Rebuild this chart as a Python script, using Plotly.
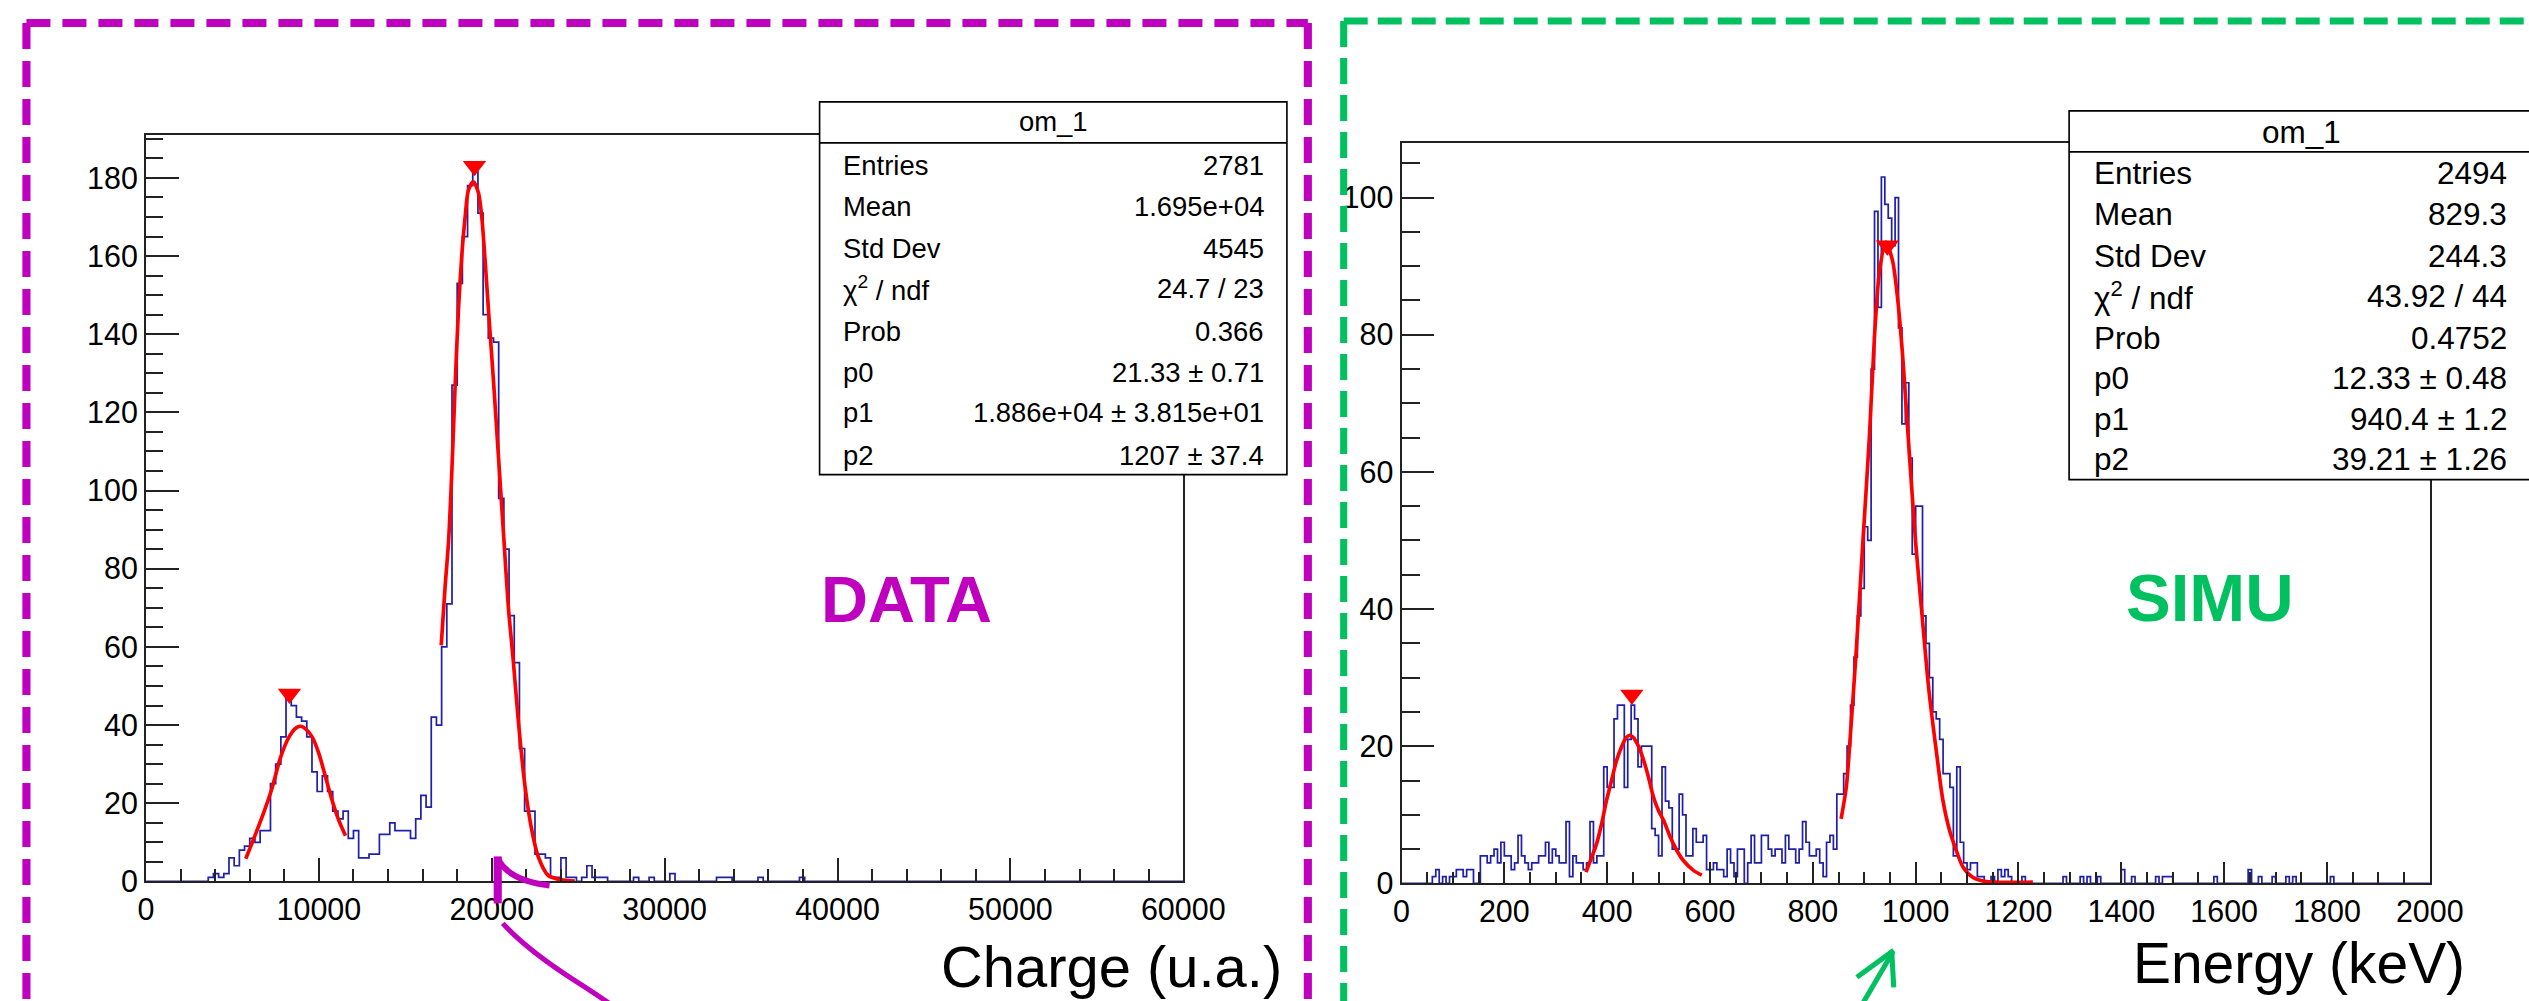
import numpy as np
import plotly.graph_objects as go

# Observed photo transform: screen = S * figure + (OXS, OYS). Compensate so that the
# picture coordinates (in the 2529x1001 reference frame) land where intended.
S = 0.984
OXS, OYS = 8.5, -1.0
W = int(round((2529 - OXS) / S)) + 1
H = int(round((1001 - OYS) / S)) + 1

# ---------------- DATA ----------------
# Left: DATA histogram, 200 bins over 0..60000 (width 300)
charge_lo, charge_hi, charge_nbins = 0, 60000, 200
charge_counts_head = [0, 0, 0, 0, 0, 0, 0, 0, 0, 0, 0, 0,
                      1, 2, 1, 2, 6, 4, 8, 9, 11, 10, 13, 13,
                      25, 30, 37, 47, 45, 42, 41, 37, 28, 23, 27, 23,
                      18, 16, 18, 11, 13, 6, 6, 7, 7, 12, 12, 15,
                      13, 13, 13, 11, 16, 22, 19, 42, 40, 60, 71,
                      127, 153, 165, 178, 182, 171, 145, 139, 138, 98, 85, 68,
                      56, 34, 18, 18, 7, 7, 6, 1, 1, 6, 1, 1, 0, 1, 4, 1, 1, 1]
charge_tail_bins = [94, 97, 101, 110, 111, 112, 118, 126]
charge_tail_counts = [1, 1, 2, 1, 1, 1, 1, 1]

# fit curves (read points)
charge_fit1_x = [5770, 6346, 6923, 7307, 7788, 8269, 8654, 8942, 9230, 9615, 10000, 10384, 10769, 11153, 11538]
charge_fit1_y = [5.8, 12.2, 19.0, 24.1, 31.8, 36.9, 39.2, 39.7, 39.0, 36.9, 32.7, 26.7, 20.7, 15.6, 11.7]
charge_fit2_x = [17075, 17306, 17498, 17690, 17883, 18075, 18268, 18460, 18652, 18940, 19229, 19421, 19614,
                 19806, 20094, 20383, 20671, 20960, 21248, 21537, 21921, 22306, 22690, 23267, 24036, 24806]
charge_fit2_y = [60.4, 75.7, 86.8, 104.8, 127.0, 146.4, 160.3, 170.0, 176.9, 179.0, 176.2, 170.0, 158.9,
                 146.4, 128.4, 109.0, 89.6, 70.2, 56.3, 41.0, 24.4, 13.3, 6.3, 1.5, 0.4, 0.1]
charge_peaks_x = [8300, 19000]
charge_peaks_y = [48, 183]

# Right: SIMU histogram, 300 bins over 0..2000 keV
energy_lo, energy_hi, energy_nbins = 0, 2000, 300
energy_counts_head = [0, 0, 0, 0, 0, 0, 0, 0, 0,
                      1, 2, 0, 1, 0, 1, 1, 2, 2, 1, 2, 2, 0, 0,
                      4, 4, 3, 4, 5, 3, 6, 4, 4, 2, 3, 7, 4, 3, 2, 3, 3, 4, 4, 6,
                      3, 5, 4, 3, 3, 9, 1, 4, 3, 3, 2, 3, 9, 3, 4, 4,
                      17, 14, 14, 24, 26, 26, 14, 21, 26, 24, 17, 20, 20, 20,
                      8, 7, 4, 17, 12, 11, 5, 5, 13, 10, 4, 4, 8, 6, 6, 7, 2, 2, 3, 2,
                      2, 1, 5, 3, 1, 5, 5, 0, 3, 7, 3, 3, 7, 7, 5, 4, 5, 5, 3, 7,
                      5, 5, 3, 5, 9, 6, 4, 4, 5, 3, 1, 6, 7, 5,
                      13, 13, 16, 20, 26, 33, 39, 43, 52, 50, 75, 98, 84, 103, 99, 97, 93, 100, 81, 67,
                      73, 62, 48, 55, 55, 39, 35, 30, 25, 24, 21, 16, 16, 14, 4, 17, 6, 3, 2, 3,
                      3, 1, 1, 0, 0, 1, 0, 2, 1, 2, 1]
energy_tail_bins = [181, 193, 198, 200, 203, 210, 213, 220, 222, 223, 224, 237, 247, 250, 254, 258, 260, 271]
energy_tail_counts = [1, 1, 1, 1, 1, 2, 1, 1, 1, 1, 1, 1, 2, 1, 1, 1, 1, 1]

energy_fit1_x = [358.8, 369.8, 379.5, 389.2, 398.8, 408.5, 418.2, 427.9, 437.6, 444.0, 450.5, 460.2, 469.9,
                 479.6, 490.0, 500.0, 509.7, 522.6, 535.5, 548.5, 567.8, 584.0]
energy_fit1_y = [1.65, 3.8, 5.8, 8.7, 12.1, 15.0, 17.9, 19.9, 21.3, 21.6, 21.3, 20.1, 18.2,
                 15.7, 12.6, 10.6, 9.2, 6.75, 4.8, 3.3, 1.9, 1.2]
energy_fit2_x = [855, 865, 871.5, 884.4, 897.3, 910.3, 919.9, 929.6, 942, 955, 965, 975, 988, 1000,
                 1013, 1026, 1040, 1053, 1066, 1079, 1092, 1111, 1134, 1228]
energy_fit2_y = [9.4, 14.0, 20.0, 33.9, 49.7, 65.5, 79.7, 89.2, 93.5, 90.8, 85.2, 76.6, 62.3, 49.7,
                 38.6, 28.0, 19.4, 12.1, 7.7, 4.8, 2.4, 0.9, 0.3, 0.2]
energy_peaks_x = [448, 945]
energy_peaks_y = [27.5, 93]

stat_labels = ["Entries", "Mean", "Std Dev", "χ<sup>2</sup> / ndf", "Prob", "p0", "p1", "p2"]
data_stat_values = ["2781", "1.695e+04", "4545", "24.7 / 23", "0.366",
                    "21.33 ± 0.71", "1.886e+04 ± 3.815e+01", "1207 ± 37.4"]
simu_stat_values = ["2494", "829.3", "244.3", "43.92 / 44", "0.4752",
                    "12.33 ± 0.48", "940.4 ± 1.2", "39.21 ± 1.26"]
stat_title = "om_1"

# ---------------- helpers ----------------
FONT = "Liberation Sans, Arial, Helvetica, sans-serif"
MAG = "#BF00BF"
GRN = "#00C060"
BLUE = "#2020A8"
AX = "#222222"


def f(v):
    """size in picture pixels -> figure pixels"""
    return v / S


def PX(x):
    return ((x - OXS) / S) / W


def PY(y):
    return 1 - ((y - OYS) / S) / H


def full_counts(head, tail_bins, tail_counts, n):
    c = np.zeros(n)
    c[:len(head)] = head
    for b, v in zip(tail_bins, tail_counts):
        c[b] = v
    return c


def hist_trace(lo, hi, n, counts, xa, ya):
    edges = np.linspace(lo, hi, n + 1)
    y = np.append(counts, counts[-1])
    return go.Scatter(x=edges, y=y, mode="lines", xaxis=xa, yaxis=ya,
                      line=dict(shape="hv", color=BLUE, width=f(1.7)), hoverinfo="skip")


fig = go.Figure()

ccounts = full_counts(charge_counts_head, charge_tail_bins, charge_tail_counts, charge_nbins)
ecounts = full_counts(energy_counts_head, energy_tail_bins, energy_tail_counts, energy_nbins)

fig.add_trace(hist_trace(charge_lo, charge_hi, charge_nbins, ccounts, "x", "y"))
fig.add_trace(hist_trace(energy_lo, energy_hi, energy_nbins, ecounts, "x2", "y2"))

for xs, ys, xa, ya in [(charge_fit1_x, charge_fit1_y, "x", "y"),
                       (charge_fit2_x, charge_fit2_y, "x", "y"),
                       (energy_fit1_x, energy_fit1_y, "x2", "y2"),
                       (energy_fit2_x, energy_fit2_y, "x2", "y2")]:
    fig.add_trace(go.Scatter(x=xs, y=ys, mode="lines", xaxis=xa, yaxis=ya,
                             line=dict(color="#FF0000", width=f(3.6), shape="spline", smoothing=0.8)))

fig.add_trace(go.Scatter(x=charge_peaks_x, y=charge_peaks_y, mode="markers", xaxis="x", yaxis="y",
                         marker=dict(symbol="triangle-down", size=f(20), color="#FF0000")))
fig.add_trace(go.Scatter(x=energy_peaks_x, y=energy_peaks_y, mode="markers", xaxis="x2", yaxis="y2",
                         marker=dict(symbol="triangle-down", size=f(20), color="#FF0000")))


def axis(domain, rng, dtick, ticklen, mdtick, mlen, fsize):
    return dict(domain=domain, range=rng, dtick=dtick, tick0=0, ticks="inside", ticklen=f(ticklen),
                tickwidth=f(2), tickcolor=AX, showline=True, linecolor=AX, linewidth=f(2), mirror=True,
                showgrid=False, zeroline=False, tickformat="d",
                tickfont=dict(family=FONT, size=f(fsize), color="black"),
                minor=dict(ticks="inside", ticklen=f(mlen), tickwidth=f(2), tickcolor=AX, dtick=mdtick,
                           showgrid=False),
                fixedrange=True)


fig.update_layout(
    width=W, height=H, margin=dict(l=0, r=0, t=0, b=0),
    paper_bgcolor="white", plot_bgcolor="white", showlegend=False,
    xaxis=dict(axis([PX(147), PX(1188)], [charge_lo, charge_hi], 10000, 23, 2000, 12, 30), anchor="y"),
    yaxis=dict(axis([PY(881), PY(134)], [0, 191], 20, 32, 5, 17, 30), anchor="x"),
    xaxis2=dict(axis([PX(1407), PX(2439)], [energy_lo, energy_hi], 200, 21, 50, 11, 30), anchor="y2"),
    yaxis2=dict(axis([PY(883), PY(141.8)], [0, 108], 20, 32, 5, 18, 30), anchor="x2"),
)

shapes = []
annotations = []


def line(x0, y0, x1, y1, color, width, dash=None):
    d = dict(type="line", xref="paper", yref="paper", x0=PX(x0), y0=PY(y0), x1=PX(x1), y1=PY(y1),
             line=dict(color=color, width=f(width)), layer="above")
    if dash:
        d["line"]["dash"] = dash
    shapes.append(d)


def path(pts_str, color, width):
    shapes.append(dict(type="path", xref="paper", yref="paper", path=pts_str,
                       line=dict(color=color, width=f(width)), layer="above"))


def P(x, y):
    return f"{PX(x):.5f},{PY(y):.5f}"


def text(x, y, s, size, xanchor="left", color="black", bold=False):
    annotations.append(dict(xref="paper", yref="paper", x=PX(x), y=PY(y), text=(f"<b>{s}</b>" if bold else s),
                            showarrow=False, xanchor=xanchor, yanchor="middle", borderpad=0,
                            font=dict(family=FONT, size=f(size), color=color)))


def stat_box(x0, y0, x1, y1, ydiv, title_xy, rows_y, lab_x, val_x, values, size):
    shapes.append(dict(type="rect", xref="paper", yref="paper", x0=PX(x0), y0=PY(y1), x1=PX(x1), y1=PY(y0),
                       line=dict(color="black", width=f(1.6)), fillcolor="white", layer="above"))
    line(x0, ydiv, x1, ydiv, "black", 1.6)
    text(title_xy[0], title_xy[1], stat_title, size, xanchor="center")
    for lab, val, yy in zip(stat_labels, values, rows_y):
        text(lab_x, yy, lab, size, "left")
        text(val_x, yy, val, size, "right")


stat_box(823, 101, 1292, 474, 142, (1058, 121),
         [165, 206, 248, 288, 331, 372, 412, 455], 845, 1270, data_stat_values, 27)
stat_box(2077, 110, 2545, 479, 151, (2310, 131),
         [172, 213, 255, 295, 337, 377, 418, 458], 2101, 2517, simu_stat_values, 31)

# dashed frames
line(27, 22, 1313, 22, MAG, 8, "24px,12px")
line(27, 22, 27, 1010, MAG, 8, "26px,12px")
line(1313, 22, 1313, 1010, MAG, 8, "26px,12px")
line(1349, 20, 2560, 20, GRN, 7, "24px,10px")
line(1349, 20, 1349, 1010, GRN, 7, "26px,11px")

# axis titles & labels
text(944, 967, "Charge (u.a.)", 57, "left")
text(2140, 963, "Energy (keV)", 56, "left")
text(910, 599, "DATA", 64, "center", MAG, bold=True)
text(2218, 597, "SIMU", 66, "center", GRN, bold=True)

# hand-drawn arrows
line(500, 903, 500, 856, MAG, 8)
path(f"M{P(501, 860)} Q{P(512, 880)} {P(552, 885)}", MAG, 6)
path(f"M{P(505, 923)} Q{P(530, 950)} {P(577, 980)} T{P(622, 1012)}", MAG, 5)
line(1870, 1003, 1900, 952, GRN, 5)
line(1864, 977, 1901, 950, GRN, 5)
line(1899, 951, 1901, 987, GRN, 5)

fig.update_layout(shapes=shapes, annotations=annotations)
fig.write_html("out.html")
